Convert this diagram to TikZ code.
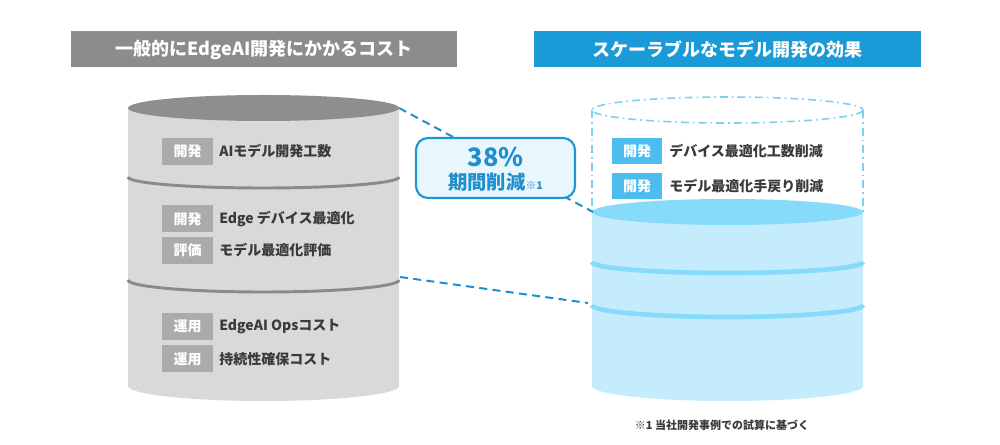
\documentclass[tikz,border=0pt]{standalone}
\usepackage{fontspec}
\setmainfont{Noto Sans CJK JP}
\definecolor{hgray}{HTML}{8C8C8C}
\definecolor{hblue}{HTML}{1A9AD6}
\definecolor{lbodyc}{HTML}{D9D9D9}
\definecolor{ltopc}{HTML}{8E8E8E}
\definecolor{lsepc}{HTML}{8A8A8A}
\definecolor{ltagc}{HTML}{ABABAB}
\definecolor{itemc}{HTML}{3A3A3A}
\definecolor{rbodyc}{HTML}{C4ECFC}
\definecolor{rtopc}{HTML}{87DBFA}
\definecolor{ghostc}{HTML}{7FD0F0}
\definecolor{rtagc}{HTML}{4DBDF0}
\definecolor{callfill}{HTML}{E8F7FD}
\definecolor{callline}{HTML}{1F96D2}
\definecolor{calltext}{HTML}{1F8FCF}
\begin{document}
\begin{tikzpicture}[x=0.75pt,y=-0.75pt,font=\bfseries,
  header/.style={minimum width=290pt,minimum height=27pt,inner sep=0pt,text=white,font=\fontsize{13.5}{16}\selectfont\bfseries},
  ltag/.style={fill=ltagc,text=white,minimum width=38.25pt,minimum height=20.25pt,inner sep=0pt,font=\fontsize{10.5}{12}\selectfont\bfseries},
  rtag/.style={fill=rtagc,text=white,minimum width=37.5pt,minimum height=19.5pt,inner sep=0pt,font=\fontsize{10.5}{12}\selectfont\bfseries},
  item/.style={anchor=west,text=itemc,inner sep=0pt,font=\fontsize{10.5}{12}\selectfont\bfseries},
  lsep/.style={draw=lsepc,line width=2.2pt},
  rsep/.style={draw=rtopc,line width=3.5pt},
  ghost/.style={draw=ghostc,line width=1.2pt,dash pattern=on 6pt off 3pt on 1.2pt off 3pt},
  conn/.style={draw=calltext,line width=1.5pt,dash pattern=on 6pt off 4pt},
  callout/.style={draw=callline,fill=callfill,line width=1.6pt,rounded corners=9pt,minimum width=119.25pt,minimum height=45pt,inner sep=0pt}
]
\useasboundingbox (0,0) rectangle (1000,445);
\fill[white] (0,0) rectangle (1000,445);

% headers
\node[header,fill=hgray] (hl) at (264,49.5) {一般的にEdgeAI開発にかかるコスト};
\node[header,fill=hblue] (hr) at (727.5,49.5) {スケーラブルなモデル開発の効果};

% left cylinder
\fill[lbodyc] (128,108) -- (128,386) arc[start angle=180,end angle=0,x radius=135.5,y radius=15] -- (399,108) -- cycle;
\fill[ltopc] (263.5,108) ellipse[x radius=135.5,y radius=13];
\draw[lsep] (128,177) arc[start angle=180,end angle=0,x radius=135.5,y radius=11];
\draw[lsep] (128,280) arc[start angle=180,end angle=0,x radius=135.5,y radius=12];

% right cylinder
\draw[ghost] (727.5,110) ellipse[x radius=135.5,y radius=13];
\draw[ghost] (592,110) -- (592,212);
\draw[ghost] (863,110) -- (863,212);
\fill[rbodyc] (592,212) -- (592,386) arc[start angle=180,end angle=0,x radius=135.5,y radius=15] -- (863,212) -- cycle;
\fill[rtopc] (727.5,212) ellipse[x radius=135.5,y radius=13];
\draw[rsep] (592,262) arc[start angle=180,end angle=0,x radius=135.5,y radius=11];
\draw[rsep] (592,305) arc[start angle=180,end angle=0,x radius=135.5,y radius=12];

% connectors
\coordinate (L1) at (399,108);
\coordinate (R1) at (593,212);
\coordinate (L2) at (400,277);
\coordinate (R2) at (588,303);
\draw[conn] (L1) -- (R1);
\draw[conn] (L2) -- (R2);

% callout
\node[callout] (co) at (495.5,168) {};
\node[text=calltext,inner sep=0pt,font=\fontsize{19}{22}\selectfont\bfseries] (pct) at (495.5,157) {38\%};
\node[text=calltext,inner sep=0pt,font=\fontsize{14.5}{17}\selectfont\bfseries] (per) at (495.5,182) {期間削減{\fontsize{8}{9}\selectfont ※1}};

% left items
\node[ltag] (t1) at (187.5,151.5) {開発};
\node[item] (i1) at (219,151.5) {AIモデル開発工数};
\node[ltag] (t2) at (187.5,219) {開発};
\node[item] (i2) at (219,219) {Edge デバイス最適化};
\node[ltag] (t3) at (187.5,250.5) {評価};
\node[item] (i3) at (219,250.5) {モデル最適化評価};
\node[ltag] (t4) at (187.5,326.5) {運用};
\node[item] (i4) at (219,326.5) {EdgeAI Opsコスト};
\node[ltag] (t5) at (187.5,359) {運用};
\node[item] (i5) at (219,359) {持続性確保コスト};

% right items
\node[rtag] (r1) at (637,151.5) {開発};
\node[item] (j1) at (669,151.5) {デバイス最適化工数削減};
\node[rtag] (r2) at (637,186) {開発};
\node[item] (j2) at (669,186) {モデル最適化手戻り削減};

% footnote
\node[text=itemc,inner sep=0pt,font=\fontsize{8.25}{10}\selectfont\bfseries] (fn) at (722,425) {※1 当社開発事例での試算に基づく};
\end{tikzpicture}
\end{document}
